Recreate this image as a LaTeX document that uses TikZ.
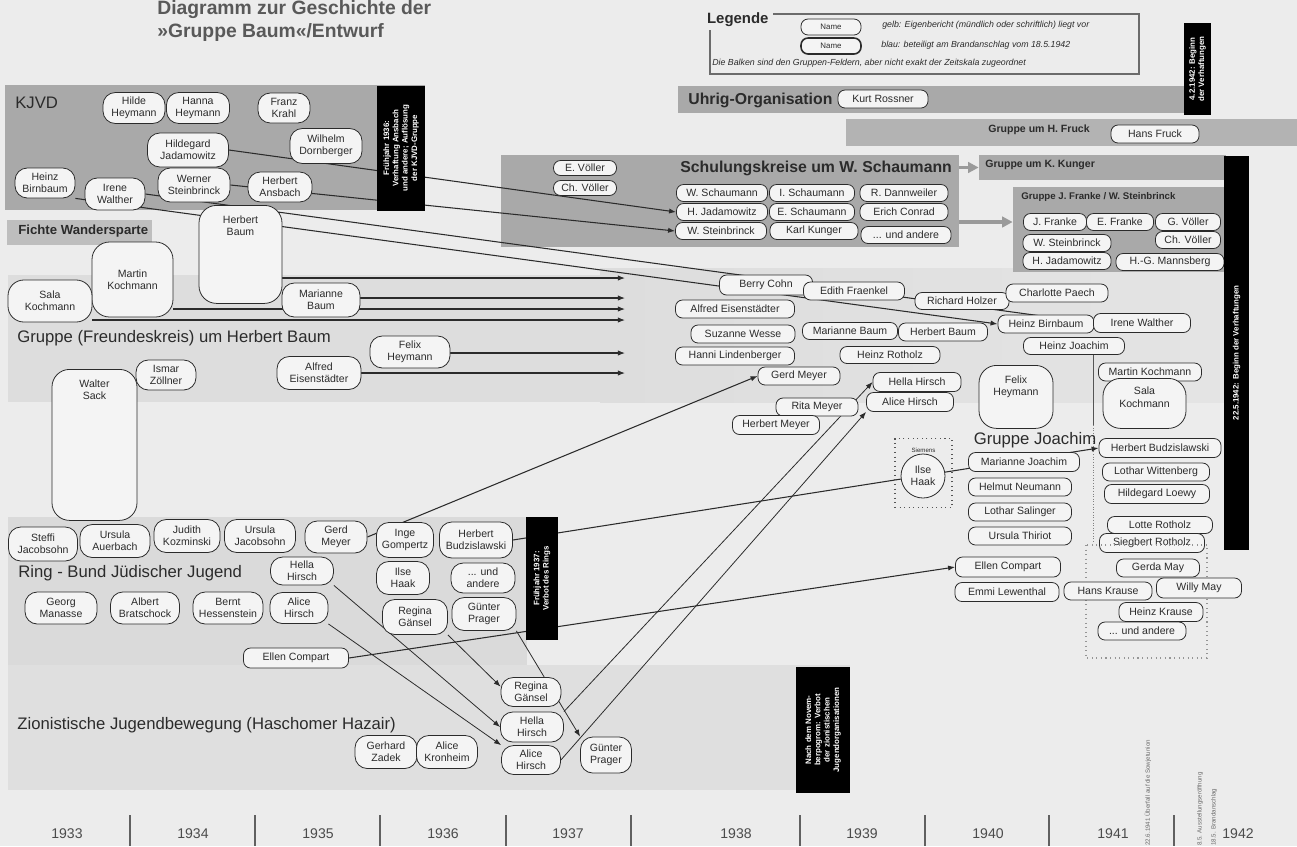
\documentclass[tikz,border=0pt]{standalone}
\usepackage{fontspec}
\setmainfont{Liberation Sans}
\usetikzlibrary{arrows.meta, positioning, shapes.geometric, calc}

\definecolor{paper}{HTML}{ECECEC}
\definecolor{banddark}{HTML}{A9A9A9}
\definecolor{bandfruck}{HTML}{B3B3B3}
\definecolor{bandfichte}{HTML}{BEBEBE}
\definecolor{bandbaum}{HTML}{DDDDDD}
\definecolor{baumdark}{HTML}{C9C9C9}
\definecolor{baumlight}{HTML}{E4E4E4}
\definecolor{bandring}{HTML}{DADADA}
\definecolor{bandzion}{HTML}{DFDFDF}
\definecolor{pillfill}{HTML}{F4F4F4}
\definecolor{ink}{HTML}{2B2B2B}
\definecolor{titlegray}{HTML}{595959}
\definecolor{arrowgray}{HTML}{9A9A9A}

\pgfdeclarelayer{bands}
\pgfdeclarelayer{links}
\pgfsetlayers{bands,links,main}

\tikzset{
  pw/.style={minimum width=#1*0.02cm},
  ph/.style={minimum height=#1*0.02cm},
  groupfield/.style={fill=#1, draw=none, inner sep=0pt},
  person/.style={draw=ink, line width=0.45pt, fill=pillfill, rounded corners=4pt,
    font=\fontsize{6}{7}\selectfont, text=ink, align=center, inner xsep=2pt, inner ysep=1pt},
  person2/.style={person, rounded corners=7pt},
  tallbox/.style={person, rounded corners=10pt, anchor=north},
  toptext/.style={font=\fontsize{6}{7}\selectfont, text=ink, align=center, anchor=north,
    inner sep=1pt, yshift=-5pt},
  blackbar/.style={fill=black, text=white, rotate=90, font=\fontsize{4.5}{5.3}\selectfont\bfseries,
    align=center, inner sep=1pt},
  grouplabel/.style={font=\fontsize{9.5}{11}\selectfont, text=ink, anchor=west, inner sep=0pt},
  boldlabel/.style={font=\fontsize{9}{11}\selectfont\bfseries, text=ink, anchor=west, inner sep=0pt},
  smalllabel/.style={font=\fontsize{6}{7}\selectfont\bfseries, text=ink, anchor=west, inner sep=0pt},
  legendtext/.style={font=\fontsize{5}{6}\selectfont\itshape, text=ink, anchor=west, inner sep=0pt},
  rel/.style={-{Latex[length=4pt,width=3pt]}, line width=0.6pt, draw=ink},
  thinrel/.style={rel, line width=0.45pt},
  grayarrow/.style={-{Triangle[length=6pt,width=6pt]}, line width=2pt, draw=arrowgray},
  yearlabel/.style={font=\fontsize{8}{9}\selectfont, text=ink!85},
  eventnote/.style={font=\fontsize{3.5}{4}\selectfont, text=ink!70, rotate=90, anchor=west, inner sep=0pt},
}

\begin{document}
\begin{tikzpicture}[x=0.02cm, y=-0.02cm]
  \useasboundingbox (0,0) rectangle (1297,846);

  % Group fields
  \begin{pgfonlayer}{bands}
    \fill[paper] (0,0) rectangle (1297,846);
    \node[groupfield=banddark, pw=420, ph=125] (kjvdfield) at (215,147.5) {};
    \node[groupfield=bandfichte, pw=145, ph=25] (fichtefield) at (79.5,232.5) {};
    \node[groupfield=bandbaum, pw=1216, ph=127] (baumfield) at (616,338.5) {};
    \shade[left color=bandbaum, middle color=baumdark, right color=baumlight] (600,268) rectangle (1224,402);
    \node[groupfield=banddark, pw=506, ph=27] (uhrigfield) at (931,99.5) {};
    \node[groupfield=bandfruck, pw=451, ph=27] (fruckfield) at (1071.5,132.5) {};
    \node[groupfield=banddark, pw=458, ph=92] (schaumannfield) at (730,201) {};
    \node[groupfield=banddark, pw=247, ph=25] (kungerfield) at (1102.5,167.5) {};
    \node[groupfield=banddark, pw=211, ph=85] (frankefield) at (1118.5,229.5) {};
    \node[groupfield=bandring, pw=519, ph=148] (ringfield) at (267.5,591) {};
    \node[groupfield=bandzion, pw=842, ph=125] (zionfield) at (429,727.5) {};
  \end{pgfonlayer}

  % Title
  \node[anchor=north west, inner sep=0pt, font=\fontsize{11}{13}\selectfont\bfseries, text=titlegray, align=left] (title) at (157,0) {Diagramm zur Geschichte der\\»Gruppe Baum«/Entwurf};

  % Legend
  \node[font=\fontsize{8.5}{9}\selectfont\bfseries, text=ink, fill=paper, anchor=west, inner sep=1pt] (legtitle) at (705,20) {Legende};
  \coordinate (legtop) at (773,14);
  \draw[ink!70, line width=0.6pt] (legtop) -- (1139,14) -- (1139,74) -- (710,74) -- (710,30);
  \node[person, pw=60, ph=16, font=\fontsize{4.5}{5}\selectfont] (legname1) at (831,27) {Name};
  \node[person, pw=60, ph=16, line width=0.9pt, font=\fontsize{4.5}{5}\selectfont] (legname2) at (831,46) {Name};
  \node[legendtext] (legtext1) at (882,25) {gelb: Eigenbericht (mündlich oder schriftlich) liegt vor};
  \node[legendtext] (legtext2) at (881,45) {blau: beteiligt am Brandanschlag vom 18.5.1942};
  \node[legendtext] (legtext3) at (712,63) {Die Balken sind den Gruppen-Feldern, aber nicht exakt der Zeitskala zugeordnet};

  % KJVD
  \node[grouplabel] (kjvdlabel) at (15,103) {KJVD};
  \node[person2, pw=62, ph=31] (hildeh) at (134,108) {Hilde\\Heymann};
  \node[person2, pw=63, ph=31] (hannah) at (198,108) {Hanna\\Heymann};
  \node[person2, pw=52, ph=30] (franzk) at (284,108) {Franz\\Krahl};
  \node[person2, pw=81, ph=34] (hildegardj) at (188,150) {Hildegard\\Jadamowitz};
  \node[person2, pw=72, ph=35] (wilhelmd) at (326,146) {Wilhelm\\Dornberger};
  \node[person2, pw=60, ph=30] (heinzbk) at (45,183) {Heinz\\Birnbaum};
  \node[person2, pw=60, ph=32] (irenewk) at (115,194) {Irene\\Walther};
  \node[person2, pw=72, ph=34] (wernerst) at (194,185) {Werner\\Steinbrinck};
  \node[person2, pw=64, ph=30] (herbertan) at (280,187) {Herbert\\Ansbach};
  \node[blackbar, pw=125, ph=48] (kjvdbar) at (401,148) {Frühjahr 1936:\\Verhaftung Ansbach\\und andere; Auflösung\\der KJVD-Gruppe};

  % Fichte and Baum group
  \node[smalllabel, font=\fontsize{7.5}{8}\selectfont\bfseries] (fichtelabel) at (18,231) {Fichte Wandersparte};
  \node[tallbox, pw=83, ph=98, label={[toptext]90:{Herbert\\Baum}}] (hbaum) at (240.5,205) {};
  \node[person2, rounded corners=10pt, pw=81, ph=75] (mkochmann) at (132.5,279.5) {Martin\\Kochmann};
  \node[person2, rounded corners=9pt, pw=84, ph=42] (skochmann) at (50,301) {Sala\\Kochmann};
  \node[person2, pw=78, ph=34] (mbaum) at (321,300) {Marianne\\Baum};
  \node[grouplabel] (baumlabel) at (17,338) {Gruppe (Freundeskreis) um Herbert Baum};
  \node[person2, pw=80, ph=32] (felixh) at (410,352) {Felix\\Heymann};
  \node[person2, pw=84, ph=33] (alfrede) at (319,373) {Alfred\\Eisenstädter};
  \node[person2, pw=60, ph=30] (ismarz) at (166,375) {Ismar\\Zöllner};
  \node[tallbox, pw=85, ph=151, label={[toptext]90:{Walter\\Sack}}] (wsack) at (94.5,369) {};

  % Uhrig, Fruck, Kunger
  \node[boldlabel] (uhriglabel) at (688,100) {Uhrig-Organisation};
  \node[person, pw=90, ph=18] (kurtr) at (883,99) {Kurt Rossner};
  \node[blackbar, pw=92, ph=27] (uhrigbar) at (1197.5,69) {4.2.1942: Beginn\\der Verhaftungen};
  \node[smalllabel, anchor=center] (frucklabel) at (1039,130) {Gruppe um H. Fruck};
  \node[person, pw=88, ph=18] (hansf) at (1155,134) {Hans Fruck};
  \node[smalllabel] (kungerlabel) at (985,165) {Gruppe um K. Kunger};

  % Schaumann
  \node[boldlabel] (schaumannlabel) at (680,168) {Schulungskreise um W. Schaumann};
  \node[person, pw=63, ph=15] (evoeller) at (585,168) {E. Völler};
  \node[person, pw=63, ph=15] (chvoeller) at (585,188) {Ch. Völler};
  \node[person, pw=91, ph=17] (wschaumann) at (722,193) {W. Schaumann};
  \node[person, pw=85, ph=17] (ischaumann) at (812,193) {I. Schaumann};
  \node[person, pw=91, ph=17] (hjadams) at (722,212) {H. Jadamowitz};
  \node[person, pw=85, ph=17] (eschaumann) at (812,212) {E. Schaumann};
  \node[person, pw=91, ph=17] (wsteinbs) at (721,231) {W. Steinbrinck};
  \node[person, pw=88, ph=17] (karlk) at (814,231) {Karl Kunger};
  \node[person, pw=88, ph=17] (rdannw) at (904,193) {R. Dannweiler};
  \node[person, pw=88, ph=17] (erichc) at (904,212) {Erich Conrad};
  \node[person, pw=90, ph=17] (undands) at (906,235) {... und andere};

  % Franke / Steinbrinck
  \node[smalllabel, font=\fontsize{5.5}{6}\selectfont\bfseries] (frankelabel) at (1021,197) {Gruppe J. Franke / W. Steinbrinck};
  \node[person, pw=63, ph=17] (jfranke) at (1055,222) {J. Franke};
  \node[person, pw=67, ph=17] (efranke) at (1120,222) {E. Franke};
  \node[person, pw=65, ph=17] (gvoeller) at (1188,222) {G. Völler};
  \node[person, pw=65, ph=17] (chvoellerf) at (1188,240) {Ch. Völler};
  \node[person, pw=88, ph=17] (wsteinbf) at (1067,243) {W. Steinbrinck};
  \node[person, pw=88, ph=17] (hjadamf) at (1067,261) {H. Jadamowitz};
  \node[person, pw=108, ph=17] (hgmannsb) at (1170,262) {H.-G. Mannsberg};

  % Baum group, later members
  \node[person, pw=93, ph=20] (berryc) at (766,285) {Berry Cohn};
  \node[person, pw=101, ph=18] (edithf) at (854,291) {Edith Fraenkel};
  \node[person, pw=94, ph=17] (richardh) at (962,301) {Richard Holzer};
  \node[person, pw=102, ph=18] (charlottep) at (1057,293) {Charlotte Paech};
  \node[person, pw=96, ph=18] (heinzbr) at (1046,324) {Heinz Birnbaum};
  \node[person, pw=97, ph=19] (irenewr) at (1142,323) {Irene Walther};
  \node[person, pw=101, ph=17] (heinzj) at (1074,346) {Heinz Joachim};
  \node[person, pw=119, ph=18] (alfreder) at (735,309) {Alfred Eisenstädter};
  \node[person, pw=104, ph=18] (suzannew) at (743,334) {Suzanne Wesse};
  \node[person, pw=119, ph=18] (hannil) at (735,356) {Hanni Lindenberger};
  \node[person, pw=95, ph=17] (mariannebr) at (850,331) {Marianne Baum};
  \node[person, pw=89, ph=18] (herbertbr) at (943,332) {Herbert Baum};
  \node[person, pw=100, ph=17] (heinzr) at (890,355) {Heinz Rotholz};
  \node[person, pw=82, ph=18] (gerdmr) at (799,376) {Gerd Meyer};
  \node[person, pw=88, ph=19] (hellahr) at (917,382) {Hella Hirsch};
  \node[person, pw=87, ph=19] (alicehr) at (910,402) {Alice Hirsch};
  \node[person, pw=82, ph=18] (ritam) at (817,407) {Rita Meyer};
  \node[person, pw=87, ph=19] (herbertm) at (776,425) {Herbert Meyer};
  \node[tallbox, pw=74, ph=63, label={[toptext]90:{Felix\\Heymann}}] (felixhr) at (1016,365) {};
  \node[person, pw=103, ph=18] (martinkr) at (1150,372) {Martin Kochmann};
  \node[tallbox, pw=83, ph=50, label={[toptext, yshift=1pt]90:{Sala\\Kochmann}}] (salakr) at (1144.5,378) {};
  \node[blackbar, pw=394, ph=25] (bigbar) at (1236.5,353) {22.5.1942: Beginn der Verhaftungen};

  % Gruppe Joachim
  \node[font=\fontsize{9.5}{11}\selectfont, text=ink, inner sep=0pt] (joachimlabel) at (1035,440) {Gruppe Joachim};
  \node[draw=ink!80, dotted, line width=0.6pt, pw=57, ph=69, anchor=north, inner sep=0pt,
    label={[font=\fontsize{3.5}{4}\selectfont, text=ink, anchor=north, yshift=-2pt]90:Siemens}] (haakbox) at (923.5,438) {};
  \node[circle, draw=ink, line width=0.45pt, fill=pillfill, minimum size=44*0.02cm, inner sep=0pt,
    font=\fontsize{6}{7}\selectfont, text=ink, align=center] (ilsehj) at (923,476) {Ilse\\Haak};
  \node[person, pw=111, ph=19] (mariannej) at (1024,462) {Marianne Joachim};
  \node[person, pw=103, ph=18] (helmutn) at (1020,487) {Helmut Neumann};
  \node[person, pw=103, ph=18] (lothars) at (1020,512) {Lothar Salinger};
  \node[person, pw=103, ph=18] (ursulat) at (1020,536) {Ursula Thiriot};
  \node[person, pw=122, ph=19] (herbertbj) at (1160,448) {Herbert Budzislawski};
  \node[person, pw=107, ph=18] (lotharw) at (1156,472) {Lothar Wittenberg};
  \node[person, pw=105, ph=19] (hildegardl) at (1157,494) {Hildegard Loewy};
  \node[person, pw=105, ph=17] (lotter) at (1160,525) {Lotte Rotholz};
  \node[person, pw=105, ph=19] (siegbertr) at (1152,543) {Siegbert Rotholz};
  \draw[ink!50, dotted, line width=0.6pt] (1086,545) rectangle (1207,658);
  \node[person, pw=105, ph=20] (ellencj) at (1008,567) {Ellen Compart};
  \node[person, pw=104, ph=19] (emmil) at (1007,592) {Emmi Lewenthal};
  \node[person, pw=88, ph=18] (hanskr) at (1108,591) {Hans Krause};
  \node[person, pw=83, ph=18] (gerdam) at (1158,568) {Gerda May};
  \node[person, pw=85, ph=20] (willym) at (1199,588) {Willy May};
  \node[person, pw=84, ph=19] (heinzkr) at (1161,612) {Heinz Krause};
  \node[person, pw=88, ph=18] (undandj) at (1142,631) {... und andere};

  % Ring - Bund Juedischer Jugend
  \node[grouplabel] (ringlabel) at (18,573) {Ring - Bund Jüdischer Jugend};
  \node[person2, pw=69, ph=34] (steffij) at (43,544) {Steffi\\Jacobsohn};
  \node[person2, pw=70, ph=33] (ursulaa) at (115,541) {Ursula\\Auerbach};
  \node[person2, pw=66, ph=33] (judithk) at (187,536) {Judith\\Kozminski};
  \node[person2, pw=71, ph=33] (ursulaj) at (260,536) {Ursula\\Jacobsohn};
  \node[person2, pw=62, ph=32] (gerdmk) at (336,537) {Gerd\\Meyer};
  \node[person2, pw=57, ph=35] (ingeg) at (405,540) {Inge\\Gompertz};
  \node[person2, pw=73, ph=36] (herbertbk) at (476,540) {Herbert\\Budzislawski};
  \node[person2, pw=63, ph=28] (hellahk) at (302,571) {Hella\\Hirsch};
  \node[person2, pw=53, ph=33] (ilsehk) at (403,578) {Ilse\\Haak};
  \node[person2, pw=64, ph=30] (undandk) at (483,578) {... und\\andere};
  \node[person2, pw=65, ph=35] (reginagk) at (415,617) {Regina\\Gänsel};
  \node[person2, pw=64, ph=33] (guenterpk) at (484,614) {Günter\\Prager};
  \node[person2, pw=72, ph=32] (georgm) at (61,608) {Georg\\Manasse};
  \node[person2, pw=69, ph=32] (albertb) at (145,608) {Albert\\Bratschock};
  \node[person2, pw=70, ph=32] (bernth) at (228,608) {Bernt\\Hessenstein};
  \node[person2, pw=58, ph=31] (alicehk) at (299,608) {Alice\\Hirsch};
  \node[person, pw=105, ph=20] (ellenck) at (296,658) {Ellen Compart};
  \node[blackbar, pw=123, ph=32] (ringbar) at (542,578.5) {Frühjahr 1937:\\Verbot des Rings};

  % Zionistische Jugendbewegung
  \node[grouplabel] (zionlabel) at (17,725) {Zionistische Jugendbewegung (Haschomer Hazair)};
  \node[person2, pw=62, ph=33] (gerhardz) at (386,752) {Gerhard\\Zadek};
  \node[person2, pw=61, ph=33] (alicek) at (447,752) {Alice\\Kronheim};
  \node[person2, pw=60, ph=29] (reginagz) at (531,692) {Regina\\Gänsel};
  \node[person2, pw=63, ph=30] (hellahz) at (532,727) {Hella\\Hirsch};
  \node[person2, pw=59, ph=29] (alicehz) at (531,760) {Alice\\Hirsch};
  \node[person2, pw=51, ph=36] (guenterpz) at (606,755) {Günter\\Prager};
  \node[blackbar, pw=126, ph=54] (zionbar) at (823,730) {Nach dem Novem-\\berpogrom: Verbot\\der zionistischen\\Jugendorganisationen};

  % Connections
  \coordinate (tipa) at (625,278);
  \coordinate (tipb) at (625,298);
  \coordinate (tipc) at (625,309);
  \coordinate (tipd) at (625,320);
  \coordinate (tipe) at (625,353);
  \coordinate (tipf) at (625,373);
  \coordinate (jmid) at (1093,425);
  \coordinate (jend) at (1093,542);
  \begin{pgfonlayer}{links}
    \draw[rel] (heinzbk.south east) -- (heinzbr.west);
    \draw[rel] (irenewk.east) -- (irenewr.west);
    \draw[rel] (hildegardj.east) -- (hjadams.west);
    \draw[rel] (wernerst.east) -- (wsteinbs.west);
    \draw[rel] (hbaum.east |- tipa) -- (tipa);
    \draw[rel] (mbaum.east |- tipb) -- (tipb);
    \draw[rel] (mkochmann.east |- tipc) -- (tipc);
    \draw[rel] (skochmann.east |- tipd) -- (tipd);
    \draw[rel] (felixh.east |- tipe) -- (tipe);
    \draw[rel] (alfrede.east |- tipf) -- (tipf);
    \draw[ink!80, line width=0.5pt] (heinzj.south -| jmid) -- (jmid);
    \draw[ink!60, line width=0.5pt, densely dotted] (jmid) -- (jend);
    \draw[grayarrow] (schaumannfield.east |- kungerfield) -- (kungerfield.west);
    \draw[grayarrow] (schaumannfield.east |- jfranke) -- (jfranke -| frankefield.west);
    \draw[rel] (gerdmk.east) -- (gerdmr.west);
    \draw[rel] (herbertbk.east) -- (herbertbj.west);
    \draw[rel] (ellenck.east) -- (ellencj.west);
    \draw[thinrel] (hellahk.south east) -- (hellahz.west);
    \draw[thinrel] (alicehk.south east) -- (alicehz.north west);
    \draw[thinrel] (reginagk.south east) -- (reginagz.170);
    \draw[thinrel] (guenterpk.south east) -- (guenterpz.north west);
    \draw[thinrel] (hellahz.north east) -- (hellahr.west);
    \draw[thinrel] (alicehz.east) -- (alicehr.south west);
  \end{pgfonlayer}

  % Time line
  \foreach \yr/\xx in {1933/67, 1934/193, 1935/318, 1936/443, 1937/568, 1938/736, 1939/862, 1940/988, 1941/1113, 1942/1238}
    \node[yearlabel] (year\yr) at (\xx,834) {\yr};
  \foreach \xx in {130, 255, 380, 506, 631, 800, 925, 1049, 1174}
    \draw[ink!75, line width=0.7pt] (\xx,815) -- (\xx,846);
  \node[eventnote] (event1) at (1148,846) {22.6.1941 Überfall auf die Sowjetunion};
  \node[eventnote] (event2) at (1200,846) {8.5. Ausstellungseröffnung};
  \node[eventnote] (event3) at (1214,846) {18.5. Brandanschlag};
\end{tikzpicture}
\end{document}
